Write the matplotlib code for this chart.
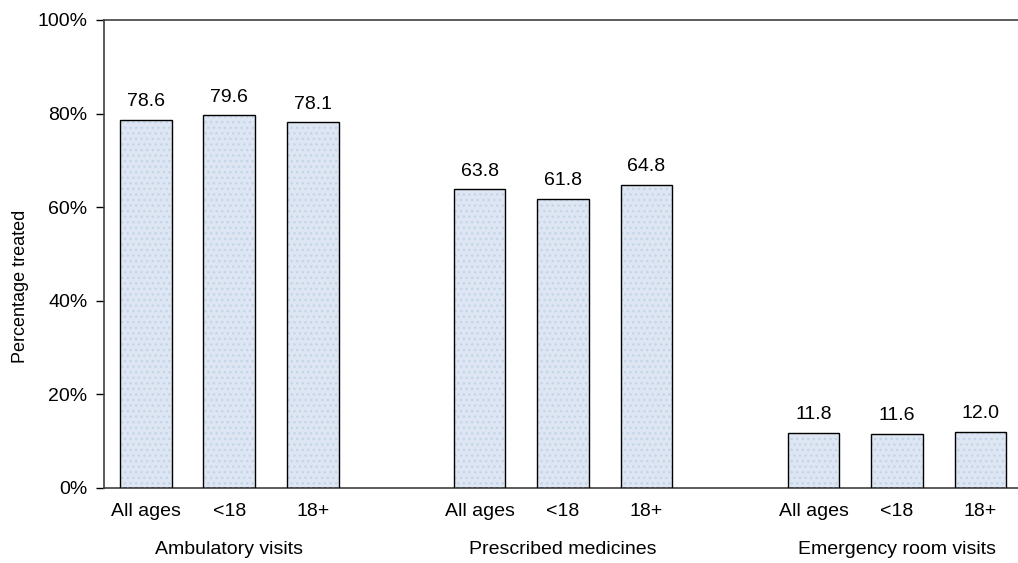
import matplotlib.pyplot as plt
import matplotlib.transforms as mtransforms
import numpy as np

plt.rcParams['font.family'] = ['Liberation Sans', 'DejaVu Sans']
plt.rcParams['font.size'] = 14

groups = ["Ambulatory visits", "Prescribed medicines", "Emergency room visits"]
ages = ["All ages", "<18", "18+"]
values = [[78.6, 79.6, 78.1],
          [63.8, 61.8, 64.8],
          [11.8, 11.6, 12.0]]

fig = plt.figure(figsize=(10.18, 5.63), dpi=100)
ax = fig.add_axes([104/1018, 75/563, 914/1018, 468/563])

xs, vals, labs = [], [], []
for g in range(3):
    for a in range(3):
        xs.append(g*4 + a)
        vals.append(values[g][a])
        labs.append(ages[a])
xs = np.array(xs)

ax.bar(xs, vals, width=0.62, color='#dde6f2', edgecolor='none', zorder=2)
# dotted texture
ax.bar(xs, vals, width=0.62, color='none', edgecolor='#c3d5e8', hatch='...', linewidth=0, zorder=3)
ax.bar(xs, vals, width=0.62, color='none', edgecolor='black', linewidth=1, zorder=4)

for x, v in zip(xs, vals):
    ax.annotate("%.1f" % v, (x, v), xytext=(0, 7), textcoords='offset points',
                ha='center', va='bottom', fontsize=14)

ax.set_xlim(-0.5, 10.45)
ax.set_ylim(0, 100)
ax.set_yticks([0, 20, 40, 60, 80, 100])
ax.set_yticklabels(["0%", "20%", "40%", "60%", "80%", "100%"])
ax.tick_params(axis='y', direction='out', length=6, width=1, pad=6, labelsize=14)
ax.set_xticks(xs)
ax.set_xticklabels(labs, fontsize=14)
ax.tick_params(axis='x', length=0, pad=11)
ax.spines['right'].set_visible(False)
for s in ['left', 'bottom', 'top']:
    ax.spines[s].set_color('#404040')
    ax.spines[s].set_linewidth(1.2)

trans = mtransforms.blended_transform_factory(ax.transData, fig.transFigure)
for g in range(3):
    ax.text(g*4 + 1, 1 - 550/563, groups[g], ha='center', va='center', fontsize=14, transform=trans)

ax.set_ylabel("Percentage treated", fontsize=13)
ax.yaxis.set_label_coords(-0.082, 0.43)

fig.savefig("out.png", dpi=100)
